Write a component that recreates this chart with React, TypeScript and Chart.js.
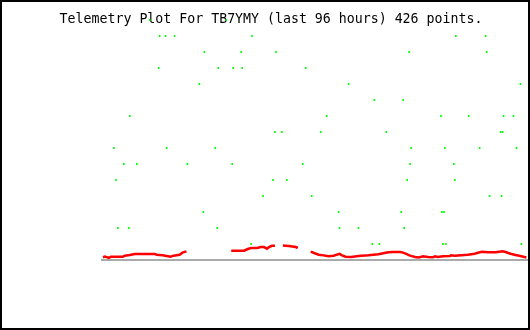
import React, { useEffect, useRef } from "react";
import { Chart, registerables } from "chart.js";

Chart.register(...registerables);

const titleText = "Telemetry Plot For TB7YMY (last 96 hours) 426 points.";

// Green telemetry samples: hours since start of window, value (integer levels)
const greenHours = [
  10.77, 28.04,
  13.01, 14.36, 16.37, 33.87, 79.85, 86.58,
  23.1, 31.4, 39.25, 69.31, 86.8,
  12.79, 26.24, 29.61, 31.63, 45.98,
  21.98, 55.63, 94.43,
  61.46, 67.96,
  6.28, 50.69, 76.49, 82.77, 90.62, 92.86,
  39.03, 40.6, 49.35, 64.15, 89.94, 90.39,
  2.69, 14.58, 25.57, 69.76, 77.38, 85.23, 93.53,
  4.93, 7.85, 19.29, 29.38, 45.31, 69.53, 79.4,
  3.14, 38.58, 41.72, 68.86, 79.63,
  36.34, 47.33, 87.48, 90.17,
  22.88, 53.38, 67.51, 76.71, 77.16,
  3.59, 6.06, 26.02, 53.61, 57.87, 68.19,
  33.64, 61.01, 62.58, 76.93, 77.61, 94.65,
];
const greenValues = [
  15, 15,
  14, 14, 14, 14, 14, 14,
  13, 13, 13, 13, 13,
  12, 12, 12, 12, 12,
  11, 11, 11,
  10, 10,
  9, 9, 9, 9, 9, 9,
  8, 8, 8, 8, 8, 8,
  7, 7, 7, 7, 7, 7, 7,
  6, 6, 6, 6, 6, 6, 6,
  5, 5, 5, 5, 5,
  4, 4, 4, 4,
  3, 3, 3, 3, 3,
  2, 2, 2, 2, 2, 2,
  1, 1, 1, 1, 1, 1,
];

// Red telemetry trace: hours, value (null = no data)
const redHours = [
  0.22, 0.67, 1.57, 2.02, 4.71, 5.16, 6.28, 7.4, 11.89, 12.34, 13.68, 15.48, 16.15, 17.5, 18.17, 19.07,
  24.0,
  29.16, 32.08, 32.75, 33.64, 34.99, 35.89, 36.56, 37.23, 37.68, 38.36, 39.03,
  40.0,
  40.82, 42.17, 43.74, 44.19,
  45.6,
  47.1, 48.0, 48.9, 50.02, 51.14, 52.26, 53.61, 54.06, 54.95, 56.3, 57.87, 60.11, 61.23, 62.35, 63.48,
  64.6, 65.72, 67.29, 67.96, 68.64, 69.53, 70.65, 71.55, 72.45, 73.57, 74.69, 75.14, 75.81, 76.93,
  78.5, 78.73, 79.63, 82.54, 84.11, 85.23, 85.91, 87.03, 88.82, 90.39, 91.07, 92.19, 93.31, 94.43, 95.78,
];
const redValues = [
  0.17, 0.21, 0.13, 0.21, 0.21, 0.27, 0.31, 0.38, 0.38, 0.33, 0.29, 0.21, 0.27, 0.33, 0.46, 0.54,
  null,
  0.58, 0.58, 0.67, 0.75, 0.75, 0.81, 0.81, 0.71, 0.81, 0.89, 0.89,
  null,
  0.91, 0.88, 0.81, 0.75,
  null,
  0.52, 0.42, 0.33, 0.29, 0.23, 0.27, 0.38, 0.31, 0.21, 0.19, 0.25, 0.29, 0.33, 0.36, 0.42,
  0.48, 0.5, 0.5, 0.46, 0.38, 0.27, 0.19, 0.16, 0.23, 0.19, 0.17, 0.23, 0.19, 0.23,
  0.25, 0.29, 0.27, 0.33, 0.39, 0.48, 0.52, 0.48, 0.48, 0.54, 0.5, 0.39, 0.31, 0.25, 0.16,
];

const xMin = 0;
const xMax = 96;
const yMin = 0;
const yMax = 16;

export default function App() {
  const ref = useRef<HTMLCanvasElement | null>(null);

  useEffect(() => {
    if (!ref.current) return;
    const titlePlugin = {
      id: "plotTitle",
      beforeDatasetsDraw(chart: any) {
        const ctx = chart.ctx;
        ctx.save();
        ctx.fillStyle = "#000000";
        ctx.font = '13.25px "DejaVu Sans Mono", monospace';
        ctx.textAlign = "center";
        ctx.textBaseline = "alphabetic";
        ctx.fillText(titleText, 271, 22.5);
        ctx.restore();
      },
      afterDraw(chart: any) {
        const ctx = chart.ctx;
        ctx.save();
        ctx.strokeStyle = "#000000";
        ctx.lineWidth = 2;
        ctx.strokeRect(1, 1, chart.width - 2, chart.height - 2);
        ctx.restore();
      },
    };

    const chart = new Chart(ref.current, {
      type: "scatter",
      data: {
        datasets: [
          {
            label: "red",
            data: redHours.map((h, i) => ({ x: h, y: redValues[i] as any })),
            showLine: true,
            spanGaps: false,
            borderColor: "#ff0000",
            backgroundColor: "#ff0000",
            borderWidth: 2.5,
            pointRadius: 0,
            tension: 0,
          },
          {
            label: "green",
            data: greenHours.map((h, i) => ({ x: h, y: greenValues[i] })),
            showLine: false,
            borderColor: "#00ff00",
            backgroundColor: "#00ff00",
            pointStyle: "line",
            rotation: 90,
            pointRadius: 1,
            borderWidth: 1.6,
            pointHoverRadius: 1,
          },
        ],
      },
      options: {
        animation: false,
        responsive: false,
        devicePixelRatio: 1,
        events: [],
        layout: { padding: { left: 102, right: 0, top: 4, bottom: 70 } },
        plugins: {
          legend: { display: false },
          title: { display: false },
          tooltip: { enabled: false },
        },
        scales: {
          x: {
            type: "linear",
            min: xMin,
            max: xMax,
            display: true,
            grid: { display: false, drawTicks: false },
            ticks: { display: false },
            border: { display: true, color: "#aaaaaa", width: 2 },
          },
          y: {
            type: "linear",
            min: yMin,
            max: yMax,
            display: false,
          },
        },
      },
      plugins: [titlePlugin],
    });
    return () => chart.destroy();
  }, []);

  return (
    <div style={{ position: "fixed", left: 0, top: 0, width: 530, height: 330, background: "#ffffff" }}>
      <canvas ref={ref} width={530} height={330} style={{ display: "block" }} />
    </div>
  );
}
